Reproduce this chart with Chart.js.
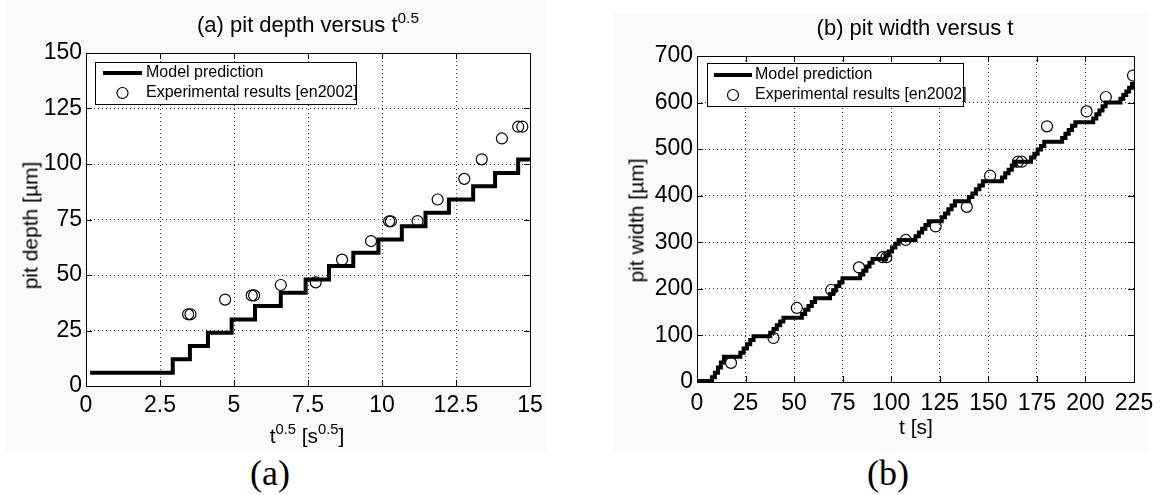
<!DOCTYPE html>
<html><head><meta charset="utf-8">
<script src="https://cdn.jsdelivr.net/npm/chart.js@4.4.0/dist/chart.umd.min.js"></script>
<style>
body{margin:0;width:1166px;height:495px;overflow:hidden;background:#fff;position:relative;font-family:'Liberation Sans',Arial,sans-serif;color:#000}
.abs{position:absolute;white-space:nowrap}
.panel{position:absolute;background:#fafbf8}
.t{font-size:22px;line-height:22px;text-align:center}
.lab{font-size:21px;line-height:21px;text-align:center}
.sp{font-size:0.7em;position:relative;top:-0.6em}
.cap{font-family:'Liberation Serif','DejaVu Serif',serif;font-size:36px;line-height:36px;text-align:center}
canvas{position:absolute;top:0}
</style></head>
<body>
<div class="panel" style="left:6px;top:0;width:540px;height:452px"></div>
<div class="panel" style="left:614px;top:13px;width:534px;height:439px"></div>
<canvas id="c1" width="560" height="440" style="left:0"></canvas>
<canvas id="c2" width="586" height="440" style="left:580px"></canvas>

<div class="abs t" style="left:108px;top:14px;width:400px">(a) pit depth versus t<span class="sp">0.5</span></div>
<div class="abs t" style="left:715px;top:17px;width:400px">(b) pit width versus t</div>
<div class="abs lab" style="left:157px;top:425px;width:300px">t<span class="sp">0.5</span> [s<span class="sp">0.5</span>]</div>
<div class="abs lab" style="left:766px;top:416px;width:300px">t [s]</div>
<div class="abs lab" style="left:-70px;top:215px;width:200px;transform:rotate(-90deg)">pit depth [µm]</div>
<div class="abs lab" style="left:536px;top:210px;width:200px;transform:rotate(-90deg)">pit width [µm]</div>
<div class="abs cap" style="left:220px;top:455px;width:100px">(a)</div>
<div class="abs cap" style="left:838px;top:455px;width:100px">(b)</div>

<script>
// ---- data ----
const legendLabels = ['Model prediction', 'Experimental results [en2002]'];

// (a) pit depth vs t^0.5 : model staircase (level start positions) and experiments
const depthModelT = [0.14, 2.93, 3.51, 4.12, 4.92, 5.71, 6.58, 7.42, 8.21, 9.03, 9.88, 10.67, 11.47, 12.26, 13.08, 13.82, 14.6, 15];
const depthModelY = [6, 12, 18, 24, 30, 36, 42, 48, 54, 60, 66, 72, 78, 84, 90, 96, 102, 102];
const depthExpT = [3.45, 3.53, 4.70, 5.60, 5.68, 6.58, 7.76, 8.65, 9.63, 10.24, 10.30, 11.20, 11.88, 12.78, 13.37, 14.05, 14.60, 14.74];
const depthExpY = [32.3, 32.3, 38.9, 40.8, 40.8, 45.5, 46.7, 56.9, 65.3, 74.2, 74.2, 74.3, 84, 93.3, 102.1, 111.5, 116.8, 116.8];
const depthXTicks = [0, 2.5, 5, 7.5, 10, 12.5, 15];
const depthYTicks = [0, 25, 50, 75, 100, 125, 150];

// (b) pit width vs t : model staircase (level start positions) and experiments
const widthModelT = [0, 7.7, 9.2, 10.8, 12.3, 13.9,
  22.3, 24.0, 25.7, 27.4, 29.1,
  37.7, 39.4, 41.1, 42.8, 44.5,
  54.0, 55.7, 57.4, 59.1, 60.8,
  68.5, 70.1, 71.7, 73.3, 74.9,
  84.0, 85.6, 87.2, 88.8, 90.4,
  97.0, 98.7, 100.4, 102.1, 103.8,
  112.5, 114.2, 115.9, 117.6, 119.3,
  126.0, 127.7, 129.4, 131.1, 132.8,
  140.0, 141.8, 143.6, 145.4, 147.2,
  157.0, 158.7, 160.4, 162.1, 163.8,
  172.0, 173.7, 175.4, 177.1, 178.8,
  188.0, 189.7, 191.4, 193.1, 194.8,
  204.0, 205.6, 207.2, 208.8, 210.4,
  218.0, 219.5, 221.0, 222.5, 224.0, 225];
const widthModelY = [2, 10, 20, 31, 42, 54,
  63, 72, 81, 90, 98,
  106, 114, 122, 130, 138,
  146, 155, 163, 172, 180,
  189, 197, 206, 214, 223,
  231, 239, 248, 256, 264,
  272, 280, 289, 297, 305,
  313, 321, 329, 337, 345,
  354, 362, 371, 379, 388,
  397, 405, 414, 422, 431,
  439, 448, 456, 465, 473,
  482, 490, 499, 507, 516,
  524, 533, 541, 550, 558,
  566, 575, 583, 592, 600,
  608, 616, 624, 632, 640, 640];
const widthExpT = [17.5, 39.4, 51.4, 69.1, 83.4, 95.5, 97.5, 107.5, 122.9, 138.9, 150.9, 165.2, 167.2, 180.2, 200.6, 210.5, 224.5];
const widthExpY = [41, 94.5, 159, 197.5, 246, 268, 268, 305, 334, 376, 443, 473, 473, 549, 581, 612, 658];
const widthXTicks = [0, 25, 50, 75, 100, 125, 150, 175, 200, 225];
const widthYTicks = [0, 100, 200, 300, 400, 500, 600, 700];

// ---- helpers ----
const zip = (xs, ys) => xs.map((x, i) => ({x: x, y: ys[i]}));
const FONT = "'Liberation Sans', Arial, sans-serif";

const framePlugin = {
  id: 'frame',
  beforeDraw(chart) {
    const a = chart.chartArea, ctx = chart.ctx;
    ctx.save(); ctx.fillStyle = '#fff';
    ctx.fillRect(a.left, a.top, a.right - a.left, a.bottom - a.top);
    ctx.restore();
  },
  afterDatasetsDraw(chart, args, opts) {
    const a = chart.chartArea, ctx = chart.ctx;
    const xs = chart.scales.x, ys = chart.scales.y;
    ctx.save();
    ctx.strokeStyle = '#000'; ctx.lineWidth = 1; ctx.setLineDash([]);
    ctx.beginPath();
    const tl = 6;
    xs.ticks.forEach(t => {
      const p = Math.round(xs.getPixelForValue(t.value)) + 0.5;
      ctx.moveTo(p, a.bottom); ctx.lineTo(p, a.bottom - tl);
      ctx.moveTo(p, a.top); ctx.lineTo(p, a.top + tl);
    });
    ys.ticks.forEach(t => {
      const p = Math.round(ys.getPixelForValue(t.value)) + 0.5;
      ctx.moveTo(a.left, p); ctx.lineTo(a.left + tl, p);
      ctx.moveTo(a.right, p); ctx.lineTo(a.right - tl, p);
    });
    ctx.stroke();
    ctx.strokeRect(Math.round(a.left) + 0.5, Math.round(a.top) + 0.5, Math.round(a.right - a.left), Math.round(a.bottom - a.top));
    // legend box
    const L = opts;
    const bx = a.left + L.dx, by = a.top + L.dy;
    ctx.fillStyle = '#fff';
    ctx.fillRect(bx, by, L.w, L.h);
    ctx.strokeRect(Math.round(bx) + 0.5, Math.round(by) + 0.5, L.w, L.h);
    const d0 = chart.data.datasets[0], d1 = chart.data.datasets[1];
    ctx.strokeStyle = d0.borderColor; ctx.lineWidth = d0.borderWidth;
    ctx.beginPath(); ctx.moveTo(bx + L.lx0, by + L.r1); ctx.lineTo(bx + L.lx1, by + L.r1); ctx.stroke();
    ctx.strokeStyle = d1.pointBorderColor; ctx.lineWidth = d1.pointBorderWidth;
    ctx.beginPath(); ctx.arc(bx + (L.lx0 + L.lx1) / 2, by + L.r2, d1.pointRadius, 0, Math.PI * 2); ctx.stroke();
    ctx.fillStyle = '#000'; ctx.font = L.font + 'px ' + FONT; ctx.textBaseline = 'middle'; ctx.textAlign = 'left';
    ctx.fillText(d0.label, bx + L.tx, by + L.r1);
    ctx.fillText(d1.label, bx + L.tx, by + L.r2);
    ctx.restore();
  }
};

function makeChart(id, model, exp, xr, yr, xt, yt, pad, yW, xH, xPad, yPad, leg) {
  const tickFont = {family: FONT, size: 23};
  return new Chart(document.getElementById(id), {
    type: 'scatter',
    data: {
      datasets: [
        {label: legendLabels[0], data: model, showLine: true, stepped: true, borderColor: '#000', borderWidth: 4,
         pointRadius: 0, fill: false, borderJoinStyle: 'miter', borderCapStyle: 'butt'},
        {label: legendLabels[1], data: exp, showLine: false, pointRadius: 5.5, pointBorderWidth: 1.2,
         pointBorderColor: '#000', pointBackgroundColor: 'rgba(0,0,0,0)', pointHoverRadius: 5.5}
      ]
    },
    options: {
      responsive: false, animation: false, devicePixelRatio: 1,
      layout: {padding: pad},
      plugins: {legend: {display: false}, tooltip: {enabled: false}, frame: leg},
      scales: {
        x: {type: 'linear', min: xr[0], max: xr[1],
            afterBuildTicks: s => { s.ticks = xt.map(v => ({value: v})); },
            afterFit: s => { s.height = xH; },
            ticks: {font: tickFont, color: '#000', padding: xPad, autoSkip: false, maxRotation: 0, callback: v => String(v)},
            grid: {color: '#333', lineWidth: 1, drawTicks: false},
            border: {display: false, dash: [1, 3]}},
        y: {type: 'linear', min: yr[0], max: yr[1],
            afterBuildTicks: s => { s.ticks = yt.map(v => ({value: v})); },
            afterFit: s => { s.width = yW; },
            ticks: {font: tickFont, color: '#000', padding: yPad, autoSkip: false, callback: v => String(v)},
            grid: {color: '#333', lineWidth: 1, drawTicks: false},
            border: {display: false, dash: [1, 3]}}
      }
    },
    plugins: [framePlugin]
  });
}

makeChart('c1', zip(depthModelT, depthModelY), zip(depthExpT, depthExpY), [0, 15], [0, 150], depthXTicks, depthYTicks,
  {left: 0, right: 30, top: 53, bottom: 14}, 86, 40, 6, 4,
  {dx: 9, dy: 9, w: 261, h: 42, lx0: 8, lx1: 47, tx: 51, r1: 11, r2: 31, font: 16});
makeChart('c2', zip(widthModelT, widthModelY), zip(widthExpT, widthExpY), [0, 225], [0, 700], widthXTicks, widthYTicks,
  {left: 0, right: 32, top: 56, bottom: 18}, 117, 40, 8, 4,
  {dx: 10, dy: 7, w: 256, h: 43, lx0: 7, lx1: 45, tx: 48, r1: 12, r2: 32, font: 16});
</script>
</body></html>
